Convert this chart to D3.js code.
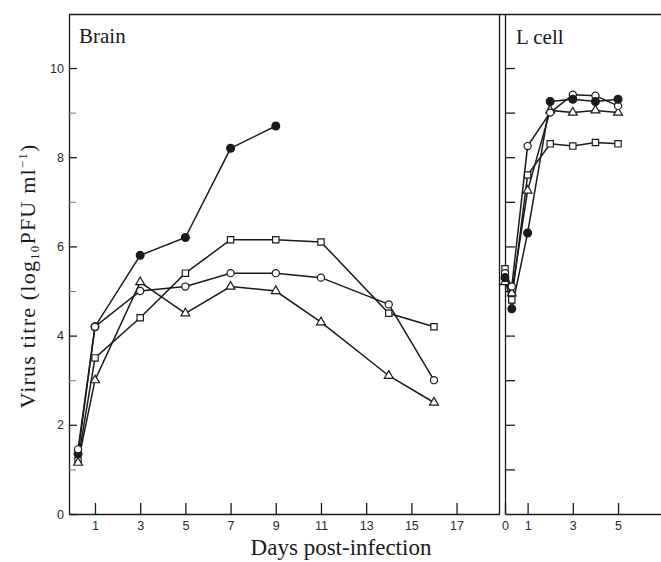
<!DOCTYPE html>
<html>
<head>
<meta charset="utf-8">
<script src="https://cdn.jsdelivr.net/npm/d3@7"></script>
<style>
  body { margin: 0; background: #fff; }
  .tick text { font-family: "Liberation Sans", Arial, sans-serif; font-size: 12.5px; fill: #2a2a2a; }
  .axis path, .axis line { stroke: #1a1a1a; stroke-width: 1.3; }
  .minor line { stroke: #777; stroke-width: 1; }
  .label { font-family: "Liberation Serif", "Times New Roman", serif; fill: #1a1a1a; }
</style>
</head>
<body>
<svg class="chart" width="661" height="562"></svg>
<script>
// Brain (days post-infection)
var brain_days = [0.25, 1, 3, 5, 7, 9, 11, 14, 16];
var brain_filled = [1.35, 4.2, 5.8, 6.2, 8.2, 8.7];
var brain_square = [1.2, 3.5, 4.4, 5.4, 6.15, 6.15, 6.1, 4.5, 4.2];
var brain_circle = [1.45, 4.2, 5.0, 5.1, 5.4, 5.4, 5.3, 4.7, 3.0];
var brain_triangle = [1.15, 3.0, 5.2, 4.5, 5.1, 5.0, 4.3, 3.1, 2.5];

// L cell
var lcell_days = [0, 0.3, 1, 2, 3, 4, 5];
var lcell_filled = [5.3, 4.6, 6.3, 9.25, 9.3, 9.25, 9.3];
var lcell_square = [5.5, 4.8, 7.6, 8.3, 8.25, 8.33, 8.3];
var lcell_circle = [5.4, 5.1, 8.25, 9.0, 9.4, 9.38, 9.15];
var lcell_triangle = [5.2, 4.95, 7.25, 9.05, 9.0, 9.05, 9.0];

var brain_ticks = [1, 3, 5, 7, 9, 11, 13, 15, 17];
var lcell_ticks = [0, 1, 3, 5];
var y_major = [0, 2, 4, 6, 8, 10];
var y_minor = [1, 3, 5, 7, 9];
var y_all = [1, 2, 3, 4, 5, 6, 7, 8, 9, 10];

var chart = d3.select(".chart");

var y = d3.scaleLinear().domain([0, 11.2]).range([514, 14.5]);
var xb = d3.scaleLinear().domain([-0.15, 18.9]).range([69, 499.5]);
var xl = d3.scaleLinear().domain([0, 6.9]).range([505, 661]);

// frame lines
chart.append("line")
  .attr("x1", 69).attr("x2", 661)
  .attr("y1", y(11.2)).attr("y2", y(11.2))
  .attr("stroke", "#1a1a1a").attr("stroke-width", 1.3);
chart.append("line")
  .attr("x1", xb(18.9)).attr("x2", xb(18.9))
  .attr("y1", y(11.2)).attr("y2", y(0))
  .attr("stroke", "#1a1a1a").attr("stroke-width", 1.3);

// brain axes
chart.append("g")
  .attr("class", "axis")
  .attr("transform", "translate(0," + y(0) + ")")
  .call(d3.axisBottom(xb).tickValues(brain_ticks).tickFormat(d3.format("d"))
    .tickSizeInner(-11).tickSizeOuter(0).tickPadding(7));

chart.append("g")
  .attr("class", "axis")
  .attr("transform", "translate(" + xb(-0.15) + ",0)")
  .call(d3.axisLeft(y).tickValues(y_major).tickFormat(d3.format("d"))
    .tickSizeInner(-8).tickSizeOuter(0).tickPadding(5));

chart.append("g")
  .attr("class", "axis minor")
  .attr("transform", "translate(" + xb(-0.15) + ",0)")
  .call(d3.axisLeft(y).tickValues(y_minor).tickSizeInner(-7).tickSizeOuter(0).tickFormat(""))
  .select(".domain").remove();

// L cell axes
chart.append("g")
  .attr("class", "axis")
  .attr("transform", "translate(0," + y(0) + ")")
  .call(d3.axisBottom(xl).tickValues(lcell_ticks).tickFormat(d3.format("d"))
    .tickSizeInner(-11).tickSizeOuter(0).tickPadding(7));

chart.append("g")
  .attr("class", "axis")
  .attr("transform", "translate(" + xl(0) + ",0)")
  .call(d3.axisLeft(y).tickValues(y_all).tickSizeInner(-10).tickSizeOuter(0).tickFormat(""));

// labels
chart.append("text").attr("class", "label")
  .attr("x", 79).attr("y", 43)
  .style("font-size", "21px")
  .text("Brain");

chart.append("text").attr("class", "label")
  .attr("x", 516).attr("y", 44)
  .style("font-size", "21px")
  .text("L cell");

chart.append("text").attr("class", "label")
  .attr("x", 341).attr("y", 555)
  .attr("text-anchor", "middle")
  .style("font-size", "23px")
  .text("Days post-infection");

var ylab = chart.append("text").attr("class", "label")
  .attr("transform", "translate(35,276) rotate(-90)")
  .attr("text-anchor", "middle")
  .style("font-size", "22px")
  .style("letter-spacing", "1.2px");
ylab.append("tspan").text("Virus titre  (log");
ylab.append("tspan").attr("dy", 4).style("font-size", "13px").text("10");
ylab.append("tspan").attr("dy", -4).text("PFU ml");
ylab.append("tspan").attr("dy", -8).style("font-size", "13px").text("\u22121");
ylab.append("tspan").attr("dy", 8).text(")");

// series
var series = [
  {x: xb, days: brain_days, vals: brain_filled, shape: "filled"},
  {x: xb, days: brain_days, vals: brain_square, shape: "square"},
  {x: xb, days: brain_days, vals: brain_circle, shape: "circle"},
  {x: xb, days: brain_days, vals: brain_triangle, shape: "triangle"},
  {x: xl, days: lcell_days, vals: lcell_square, shape: "square"},
  {x: xl, days: lcell_days, vals: lcell_triangle, shape: "triangle"},
  {x: xl, days: lcell_days, vals: lcell_circle, shape: "circle"},
  {x: xl, days: lcell_days, vals: lcell_filled, shape: "filled"}
];

var lines_g = chart.append("g");
var marks_g = chart.append("g");

series.forEach(function(s) {
  var pts = s.vals.map(function(v, i) { return [s.days[i], v]; });
  var line = d3.line()
    .x(function(d) { return s.x(d[0]); })
    .y(function(d) { return y(d[1]); });

  lines_g.append("path")
    .attr("d", line(pts))
    .attr("fill", "none")
    .attr("stroke", "#1a1a1a")
    .attr("stroke-width", 1.5);

  var sym;
  if (s.shape == "square") sym = d3.symbol().type(d3.symbolSquare).size(40);
  else if (s.shape == "triangle") sym = d3.symbol().type(d3.symbolTriangle).size(34);
  else sym = d3.symbol().type(d3.symbolCircle).size(s.shape == "filled" ? 48 : 40);

  marks_g.selectAll(null)
    .data(pts)
    .enter().append("path")
      .attr("d", sym)
      .attr("transform", function(d) { return "translate(" + s.x(d[0]) + "," + y(d[1]) + ")"; })
      .attr("fill", s.shape == "filled" ? "#1a1a1a" : "#fff")
      .attr("stroke", "#1a1a1a")
      .attr("stroke-width", 1.2);
});
</script>
</body>
</html>
